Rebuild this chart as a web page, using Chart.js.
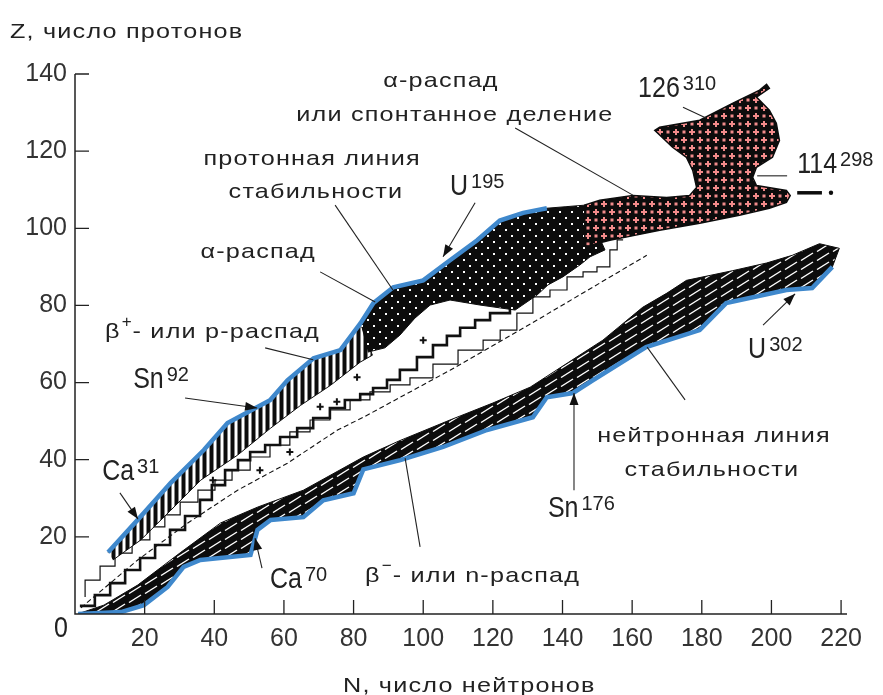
<!DOCTYPE html>
<html>
<head>
<meta charset="utf-8">
<script src="https://cdn.jsdelivr.net/npm/chart.js@4.4.1/dist/chart.umd.min.js"></script>
<style>
html,body{margin:0;padding:0;background:#fff;}
canvas{display:block;}
</style>
</head>
<body>
<canvas id="c" width="883" height="695"></canvas>
<script>
// ---------------- DATA (N = neutrons, Z = protons) ----------------
const xTicks = [20, 40, 60, 80, 100, 120, 140, 160, 180, 200, 220];
const yTicks = [20, 40, 60, 80, 100, 120, 140];

// proton drip line (blue, upper boundary)
const protonDripN = [9.5, 18, 27.5, 37, 43.8, 56, 61, 68.5, 76.2, 82, 85.7, 91.4, 100, 107.7, 115.5, 122, 128.7, 135.5];
const protonDripZ = [16, 24.4, 34, 42.5, 49.5, 55.4, 60.6, 66.3, 68.4, 75.4, 80.6, 84.7, 86.5, 91.7, 96.9, 102, 104, 105.2];

// lower edge of beta+ / p-decay region
const betaPlusLowN = [10.9, 18.9, 27.5, 36.1, 46.7, 56.2, 64.8, 73.4, 81.9, 85.4];
const betaPlusLowZ = [14, 19.2, 26.9, 34.7, 41.2, 48.2, 54.1, 59.3, 65.3, 67.1];

// alpha-decay region: extra top point past the drip line, and lower edge
const alphaTopExtN = [146.4];
const alphaTopExtZ = [106];
const alphaLowN = [84.1, 89, 93.3, 97.6, 102, 107.7, 116.3, 126.4, 132.7, 135.8, 140.1, 145, 147.9, 152.2];
const alphaLowZ = [67.9, 69, 72.3, 76.7, 80.1, 81.4, 80.1, 78.8, 82.7, 85.3, 87.4, 90.5, 92.6, 94.4];

// alpha-decay or spontaneous fission region (outline)
const fissionN = [146.4, 146.4, 150.7, 160.2, 169.9, 176.5, 178.5, 177.4, 175.6, 171.6, 166.5, 167.9, 179.4, 188.8, 196.6, 198.6, 199.4, 195.7, 199.4, 201.4, 202.3, 200.3, 195.7, 194.6, 195.7, 204.3, 205.4, 204.3, 199.4, 190.8, 179.4, 167.9, 159.3, 153.6, 147.9];
const fissionZ = [95.6, 106, 107.3, 108.5, 108, 108.5, 110.6, 115, 118.4, 121, 125.4, 126.2, 128, 132.4, 135.8, 137.3, 136.3, 134, 130.6, 127.2, 122.8, 118.4, 115.8, 113.2, 111.1, 109.8, 108.5, 106.7, 105.2, 103.4, 101.3, 99.5, 97.9, 96.9, 95.6];

// superheavy tail (dash + dot)
const tailN = [207.4, 214.5];
const tailZ = [109.2, 109.2];
const tailDotN = [217.1];
const tailDotZ = [109.2];

// neutron drip line (blue, lower boundary)
const neutronDripN = [0.9, 13.2, 19.8, 26.6, 31.2, 36, 50.4, 52.4, 56.2, 65.6, 71.3, 80, 82.8, 93.4, 105.7, 118.3, 131.5, 135.5, 143, 148.7, 164, 179.4, 187, 204.3, 211.7, 217.5];
const neutronDripZ = [0, 0.5, 2.3, 7, 12.2, 14, 15.3, 21.8, 24.4, 25.1, 29.5, 31.3, 37.5, 39.9, 43.3, 47.7, 51, 56.2, 57.3, 60.6, 69.2, 73.6, 80.6, 84, 84.5, 90];

// upper edge of beta- / n-decay band
const lowerBandTopN = [1.7, 8.3, 18, 30.4, 41.8, 52.4, 65.6, 82.8, 93.4, 107.7, 120, 130.7, 141.3, 151.6, 163, 170, 175.6, 188.8, 198.6, 206, 213.8, 219.5];
const lowerBandTopZ = [0.3, 2.3, 7.5, 16, 23.6, 27.7, 32.1, 40.7, 45, 50.3, 54.7, 58.8, 65, 71, 79.5, 83.2, 86.5, 89, 91, 93, 96, 94.8];

// valley of stability: staircases and dashed line
const valleyThickN = [1.4, 5.7, 10.1, 14.4, 18.7, 23, 27.3, 31.6, 35.9, 39.3, 43.1, 46.8, 50.3, 54.6, 58.9, 63.8, 68.4, 73.2, 77.5, 81.9, 85.6, 89.6, 93.3, 98.2, 102.8, 106.8, 110.6, 114.9, 119.2, 124.9];
const valleyThickZ = [2.1, 4.9, 8, 11.4, 14.5, 17.9, 21.8, 25.4, 29.6, 33.4, 37.3, 39.9, 42, 43.8, 45.9, 48.2, 50.8, 53.4, 55.5, 57, 58.6, 60.7, 63.3, 66.6, 69.7, 72.1, 74.2, 76.2, 78, 79.3];
const valleyThinN = [2.9, 7.2, 11.5, 16.4, 21.5, 25.8, 30.2, 35.3, 40.2, 45.1, 50.3, 56, 61.7, 67.5, 73.2, 79, 84.7, 90.5, 96.2, 102.8, 110, 117.2, 122.1, 126.9, 131.5, 136.4, 141.3, 145.9, 149.9, 153.6, 155.7, 157.4];
const valleyThinZ = [4.4, 8.8, 12.4, 15.8, 19.2, 22.6, 25.7, 29, 32.1, 34.7, 37.3, 40.7, 43.8, 47.2, 50.3, 52.9, 55.5, 57.6, 59.4, 61.2, 64.8, 68.4, 71, 73.6, 78, 82.2, 84, 87.4, 88.7, 90, 94.4, 97];
const stabilityN = [1.7, 18, 32.4, 46.7, 61, 75.4, 82.8, 107.7, 132.7, 150.7, 164.2];
const stabilityZ = [1.6, 14, 23.6, 32.1, 39.1, 47.7, 51, 63.2, 76.2, 85.8, 93];
const crossN = [39.6, 53.1, 61.7, 70.4, 75.2, 81, 100];
const crossZ = [34.7, 37.3, 42, 53.7, 55, 61.4, 71];

// annotations (anchor in N,Z data units)
const wordLabels = [
  {t: 'α-распад', n: 105.1, z: 136.6, a: 'center'},
  {t: 'или спонтанное деление', n: 109.1, z: 127.8, a: 'center'},
  {t: 'протонная линия', n: 68.1, z: 116.4, a: 'center'},
  {t: 'стабильности', n: 69.2, z: 107.9, a: 'center'},
  {t: 'α-распад', n: 52.6, z: 92.3, a: 'center'},
  {t: 'нейтронная линия', n: 183.5, z: 44.6, a: 'center'},
  {t: 'стабильности', n: 182.9, z: 35.8, a: 'center'}
];
const isoLabels = [
  {m: '126', s: '310', n: 161.7, z: 134.0},
  {m: 'U', s: '195', n: 107.7, z: 108.6},
  {m: '114', s: '298', n: 207.4, z: 114.3},
  {m: 'Sn', s: '92', n: 16.7, z: 58.6},
  {m: 'Ca', s: '31', n: 7.8, z: 34.7},
  {m: 'Ca', s: '70', n: 56, z: 6.7},
  {m: 'Sn', s: '176', n: 135.8, z: 25.1},
  {m: 'U', s: '302', n: 193.3, z: 66.4}
];
const decayLabels = [
  {b: 'β', s: '+', rest: '- или p-распад', n: 8.6, z: 71.6},
  {b: 'β', s: '−', rest: '- или n-распад', n: 83.3, z: 8.3}
];
const leaders = [
  {f: [126.4, 126], t: [160.2, 108.6], arrow: false},
  {f: [174.6, 131.4], t: [181.2, 128.6], arrow: false},
  {f: [195.9, 113.6], t: [204.5, 113.6], arrow: false},
  {f: [74.7, 106], t: [91.3, 84], arrow: false},
  {f: [114.9, 106.6], t: [105.7, 92.6], arrow: true},
  {f: [70.4, 88.7], t: [86.2, 80.9], arrow: false},
  {f: [54.6, 69], t: [68.4, 65.9], arrow: false},
  {f: [31.6, 56], t: [52.3, 53.4], arrow: true},
  {f: [12.9, 31.4], t: [18.1, 24.6], arrow: true},
  {f: [53.7, 11.9], t: [51.7, 19.7], arrow: true},
  {f: [99.1, 17.4], t: [94.8, 40.4], arrow: false},
  {f: [143.3, 32.1], t: [143.3, 57.3], arrow: true},
  {f: [175.2, 55.5], t: [164.3, 69.2], arrow: false},
  {f: [197.6, 74.9], t: [206.8, 83], arrow: true}
];

// ---------------- BUILD ----------------
const canvas = document.getElementById('c');
const ctx0 = canvas.getContext('2d');
function tile(w, h, draw) {
  const c = document.createElement('canvas');
  c.width = w; c.height = h;
  const g = c.getContext('2d');
  draw(g);
  return ctx0.createPattern(c, 'repeat');
}
const BLACK = '#0c0c0c';
const BLUE = '#3f88cc';
const PINK = '#f28b8b';
const stripePat = tile(7, 7, g => { g.fillStyle = BLACK; g.fillRect(0, 0, 7, 7); g.fillStyle = '#fff'; g.fillRect(3.5, 0, 3, 7); });
const dotPat = tile(12, 12, g => { g.fillStyle = BLACK; g.fillRect(0, 0, 12, 12); g.fillStyle = '#fff'; g.fillRect(1, 1, 2, 2); g.fillRect(7, 7, 2, 2); });
const pinkPat = tile(16, 16, g => {
  g.fillStyle = BLACK; g.fillRect(0, 0, 16, 16);
  g.fillStyle = PINK;
  g.fillRect(3, 1, 2, 6); g.fillRect(1, 3, 6, 2);
  g.fillRect(11, 9, 2, 6); g.fillRect(9, 11, 6, 2);
  g.fillRect(10.5, 2.5, 3, 3); g.fillRect(2.5, 10.5, 3, 3);
});
const hatchPat = tile(16, 9, g => {
  g.fillStyle = BLACK; g.fillRect(0, 0, 16, 9);
  g.strokeStyle = '#fff'; g.lineWidth = 1.4; g.beginPath(); g.moveTo(1, 8.5); g.lineTo(13, 1); g.stroke();
});

const pts = (N, Z) => N.map((n, i) => ({x: n, y: Z[i]}));
const protonPts = pts(protonDripN, protonDripZ);

const layers = [
  { // beta- band
    data: pts(neutronDripN, neutronDripZ).concat(pts(lowerBandTopN, lowerBandTopZ).reverse()),
    fill: 'shape', backgroundColor: hatchPat, borderColor: BLACK, borderWidth: 1
  },
  { // neutron drip line
    data: pts(neutronDripN, neutronDripZ), fill: false, borderColor: BLUE, borderWidth: 4.5
  },
  { data: pts(stabilityN, stabilityZ), fill: false, borderColor: '#111', borderWidth: 1.1, borderDash: [5, 3] },
  { data: pts(valleyThinN, valleyThinZ), fill: false, borderColor: '#111', borderWidth: 1.2, stepped: 'after' },
  { data: pts(valleyThickN, valleyThickZ), fill: false, borderColor: '#111', borderWidth: 2.6, stepped: 'before' },
  { data: pts(crossN, crossZ), showLine: false, pointStyle: 'cross', pointRadius: 3.5, borderColor: '#111', pointBorderWidth: 2, borderWidth: 2 },
  { // beta+ region
    data: protonPts.filter(p => p.x <= 82).concat(pts(betaPlusLowN, betaPlusLowZ).reverse()),
    fill: 'shape', backgroundColor: stripePat, borderColor: BLACK, borderWidth: 1
  },
  { // alpha region
    data: protonPts.filter(p => p.x >= 82).concat(pts(alphaTopExtN, alphaTopExtZ), pts(alphaLowN, alphaLowZ).reverse()),
    fill: 'shape', backgroundColor: dotPat, borderColor: BLACK, borderWidth: 1
  },
  { // fission region
    data: pts(fissionN, fissionZ), fill: 'shape', backgroundColor: pinkPat, borderColor: BLACK, borderWidth: 1.5
  },
  { // proton drip line
    data: protonPts, fill: false, borderColor: BLUE, borderWidth: 4.5
  },
  { data: pts(tailN, tailZ), fill: false, borderColor: BLACK, borderWidth: 3.5 },
  { data: pts(tailDotN, tailDotZ), showLine: false, pointStyle: 'circle', pointRadius: 2.2, backgroundColor: BLACK, borderColor: BLACK, borderWidth: 0 }
];
const datasets = layers.map((d, i) => Object.assign({pointRadius: 0, tension: 0, order: layers.length - i}, d));

const WIDE = '"Liberation Sans", Arial, sans-serif';
const WORD_FONT = '21px ' + WIDE;
const SUP_FONT = '20px ' + WIDE;
const BIG_FONT = '25px ' + WIDE;
const BIG_SY = 1.2;
const SX = 1.2;
const INK = '#222';
const TICK_INK = '#333';

function drawWord(ctx, text, x, y, align) {
  ctx.save();
  ctx.font = WORD_FONT;
  ctx.letterSpacing = '1px';
  const w = ctx.measureText(text).width * SX;
  const left = align === 'center' ? x - w / 2 : x;
  ctx.translate(left, y);
  ctx.scale(SX, 1);
  ctx.textAlign = 'left';
  ctx.textBaseline = 'alphabetic';
  ctx.fillStyle = INK;
  ctx.fillText(text, 0, 0);
  ctx.restore();
  return left + w;
}
function drawBig(ctx, text, x, y, align) {
  ctx.save();
  ctx.font = BIG_FONT;
  const w = ctx.measureText(text).width;
  const left = align === 'center' ? x - w / 2 : x;
  ctx.translate(left, y);
  ctx.scale(1, BIG_SY);
  ctx.textAlign = 'left';
  ctx.textBaseline = 'alphabetic';
  ctx.fillStyle = INK;
  ctx.fillText(text, 0, 0);
  ctx.restore();
  return left + w;
}
function arrowHead(ctx, x1, y1, x2, y2) {
  const a = Math.atan2(y2 - y1, x2 - x1), L = 12, W = 4.5;
  ctx.beginPath();
  ctx.moveTo(x2, y2);
  ctx.lineTo(x2 - L * Math.cos(a) + W * Math.sin(a), y2 - L * Math.sin(a) - W * Math.cos(a));
  ctx.lineTo(x2 - L * Math.cos(a) - W * Math.sin(a), y2 - L * Math.sin(a) + W * Math.cos(a));
  ctx.closePath();
  ctx.fill();
}

const annot = {
  id: 'annot',
  afterDatasetsDraw(chart) {
    const {ctx, scales: {x, y}} = chart;
    const px = n => x.getPixelForValue(n), py = z => y.getPixelForValue(z);
    ctx.save();
    // axes
    ctx.strokeStyle = '#222'; ctx.lineWidth = 1.5;
    ctx.beginPath();
    ctx.moveTo(px(0), py(140)); ctx.lineTo(px(0), py(0)); ctx.lineTo(x.right, py(0));
    ctx.stroke();
    ctx.lineWidth = 1.3;
    ctx.beginPath();
    xTicks.forEach(v => { ctx.moveTo(px(v), py(0)); ctx.lineTo(px(v), py(0) - 14); });
    yTicks.forEach(v => { ctx.moveTo(px(0), py(v)); ctx.lineTo(px(0) + 14, py(v)); });
    ctx.stroke();
    // origin label
    drawBig(ctx, '0', px(0) - 14, py(0) + 23, 'center');
    // leaders
    ctx.strokeStyle = '#222'; ctx.fillStyle = '#111'; ctx.lineWidth = 1.1;
    leaders.forEach(l => {
      const x1 = px(l.f[0]), y1 = py(l.f[1]), x2 = px(l.t[0]), y2 = py(l.t[1]);
      ctx.beginPath(); ctx.moveTo(x1, y1); ctx.lineTo(x2, y2); ctx.stroke();
      if (l.arrow) arrowHead(ctx, x1, y1, x2, y2);
    });
    // word labels
    wordLabels.forEach(w => drawWord(ctx, w.t, px(w.n), py(w.z), w.a));
    // isotope labels
    isoLabels.forEach(l => {
      const x0 = px(l.n), y0 = py(l.z);
      const e = drawBig(ctx, l.m, x0, y0, 'left');
      ctx.font = SUP_FONT; ctx.fillStyle = INK; ctx.textAlign = 'left'; ctx.textBaseline = 'alphabetic';
      ctx.fillText(l.s, e + 3, y0 - 7);
    });
    // decay labels
    decayLabels.forEach(d => {
      const x0 = px(d.n), y0 = py(d.z);
      const e = drawWord(ctx, d.b, x0, y0, 'left');
      ctx.font = '17px ' + WIDE; ctx.fillStyle = INK; ctx.textAlign = 'left'; ctx.textBaseline = 'alphabetic';
      ctx.fillText(d.s, e + 1, y0 - 11);
      const sw = ctx.measureText(d.s).width;
      drawWord(ctx, d.rest, e + sw + 2, y0, 'left');
    });
    // axis titles
    drawWord(ctx, 'Z, число протонов', 10, 38, 'left');
    drawWord(ctx, 'N, число нейтронов', 343, 692, 'left');
    ctx.restore();
  }
};

new Chart(canvas, {
  type: 'line',
  data: {datasets},
  options: {
    responsive: false,
    animation: false,
    layout: {padding: {top: 74, right: 36, left: 0, bottom: 0}},
    plugins: {legend: {display: false}, tooltip: {enabled: false}},
    scales: {
      x: {
        type: 'linear', min: 0, max: 221.7,
        grid: {display: false, drawTicks: false},
        border: {display: false},
        afterBuildTicks: s => { s.ticks = [0].concat(xTicks).map(v => ({value: v})); },
        afterFit: s => { s.height = 81; },
        ticks: {autoSkip: false, maxRotation: 0, padding: 10, color: TICK_INK,
          font: {family: WIDE, size: 25}, callback: v => (v === 0 ? '' : v)}
      },
      y: {
        type: 'linear', min: 0, max: 140,
        grid: {display: false, drawTicks: false},
        border: {display: false},
        afterBuildTicks: s => { s.ticks = [0].concat(yTicks).map(v => ({value: v})); },
        afterFit: s => { s.width = 75; },
        ticks: {autoSkip: false, padding: 8, color: TICK_INK,
          font: {family: WIDE, size: 25}, callback: v => (v === 0 ? '' : v)}
      }
    }
  },
  plugins: [annot]
});
</script>
</body>
</html>
